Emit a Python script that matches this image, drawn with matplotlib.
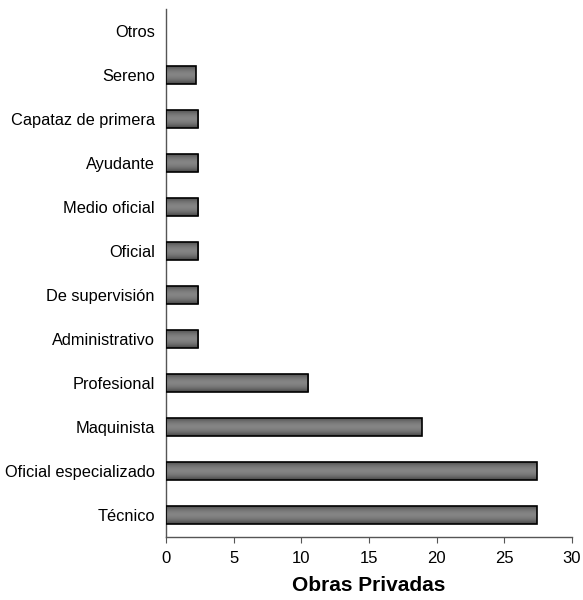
import matplotlib
matplotlib.use("Agg")
import matplotlib.pyplot as plt
import numpy as np
from matplotlib.patches import Rectangle

categories = ["Técnico", "Oficial especializado", "Maquinista", "Profesional",
              "Administrativo", "De supervisión", "Oficial", "Medio oficial",
              "Ayudante", "Capataz de primera", "Sereno", "Otros"]
values = [27.4, 27.4, 18.9, 10.5, 2.4, 2.4, 2.4, 2.4, 2.4, 2.4, 2.2, 0.0]
xticks = [0, 5, 10, 15, 20, 25, 30]
xlabel = "Obras Privadas"

plt.rcParams['font.family'] = ['Liberation Sans', 'DejaVu Sans']

fig = plt.figure(figsize=(5.83, 6.0), dpi=100)
ax = fig.add_axes([166/583, 1-537/600, (572-166)/583, (537-9)/600])

y = np.arange(len(categories))
h = 0.41
bars = ax.barh(y, values, height=h, color='none', edgecolor='black', linewidth=1.2, zorder=3)

# cylinder-like vertical gradient
grad = np.linspace(0, 1, 64)
shade = 0.28 + 0.24 * np.sin(np.pi * grad)
img = np.repeat(shade[:, None], 2, axis=1)
for b in bars:
    x0, y0 = b.get_x(), b.get_y()
    w, hh = b.get_width(), b.get_height()
    if w <= 0:
        b.set_visible(False)
        continue
    im = ax.imshow(img, extent=[x0, x0 + w, y0, y0 + hh], cmap='gray', vmin=0, vmax=1,
                   aspect='auto', origin='lower', zorder=2, interpolation='bilinear')
    clip = Rectangle((x0, y0), w, hh, transform=ax.transData)
    im.set_clip_path(clip)

ax.set_xlim(0, 30)
ax.set_ylim(-0.5, len(categories) - 0.5)
ax.set_xticks(xticks)
ax.set_xticklabels([str(t) for t in xticks], fontsize=12)
ax.set_yticks(y)
ax.set_yticklabels(categories, fontsize=11.8)
ax.tick_params(axis='y', length=0, pad=8)
ax.tick_params(axis='x', length=4, direction='out', pad=6, color='#555555')
for s in ['top', 'right']:
    ax.spines[s].set_visible(False)
for s in ['left', 'bottom']:
    ax.spines[s].set_color('#555555')
    ax.spines[s].set_linewidth(1.0)
ax.set_xlabel(xlabel, fontsize=15, fontweight='bold', labelpad=7)

fig.savefig("out.png", dpi=100)
